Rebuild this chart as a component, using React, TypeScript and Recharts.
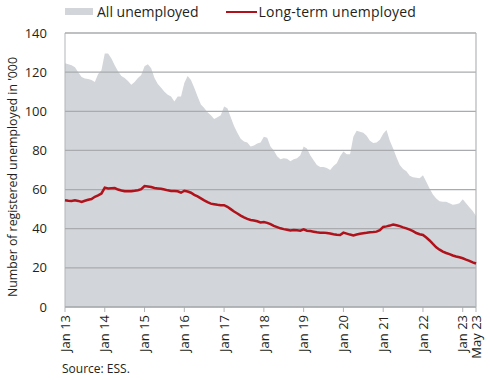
import { ComposedChart, Area, Line, XAxis, YAxis, CartesianGrid, ReferenceLine } from "recharts";

// monthly, Jan 2013 .. May 2023, thousands
const allUnemployed = [
  124.5, 124, 123.5, 122.5, 120, 117.5, 116.8, 116.5, 116, 115, 119, 121,
  129.5, 129.5, 127, 123.5, 120.5, 118, 117, 115.5, 113.5, 115, 117, 118.5,
  123, 124, 122, 117, 114, 112, 110, 108.5, 107.5, 105, 107.5, 107.5,
  114.5, 118, 116, 112, 107.5, 103.5, 101.7, 99.5, 98, 96, 97, 98,
  102.5, 101.5, 97, 92.5, 89, 86, 84.5, 84, 82, 82.5, 83.5, 84,
  87, 86.5, 82, 80, 77, 75.5, 76, 75.8, 74.5, 75.5, 76, 77.5,
  82, 81, 77.5, 75, 72.5, 71.5, 71.5, 71, 70, 72, 73.5, 77,
  79.5, 78, 78, 87, 90, 89.5, 89, 87.5, 85, 83.8, 84, 85.5,
  88.5, 90.5, 85, 81, 76.5, 72.5, 70.5, 69.3, 67, 66.3, 66, 65.8,
  67.3, 64, 60.5, 57.5, 55.5, 54, 53.8, 53.8, 53, 52.2, 52.5, 53,
  55, 53, 51, 49, 46.5,
];

const longTermUnemployed = [
  54.5, 54.3, 54.2, 54.5, 54.2, 53.7, 54.3, 54.8, 55.2, 56.3, 57, 58,
  61, 60.6, 60.7, 60.8, 60, 59.5, 59.1, 59.1, 59.2, 59.4, 59.7, 60.2,
  61.8, 61.6, 61.3, 60.8, 60.6, 60.4, 60, 59.6, 59.3, 59.3, 59.1, 58.4,
  59.4, 59, 58.4, 57.3, 56.5, 55.5, 54.5, 53.6, 52.8, 52.5, 52.2, 52,
  52, 51.2, 50, 48.8, 47.8, 46.7, 45.8, 45, 44.5, 44.2, 43.8, 43.2,
  43.4, 43, 42.3, 41.4, 40.8, 40.2, 39.8, 39.5, 39.1, 39.3, 39.2, 39,
  39.7, 39, 38.8, 38.5, 38.2, 38, 38, 37.8, 37.6, 37.2, 36.9, 36.8,
  38, 37.5, 37, 36.6, 37, 37.4, 37.7, 37.9, 38.2, 38.3, 38.5, 39.3,
  40.9, 41.2, 41.6, 42.1, 41.8, 41.3, 40.7, 40.2, 39.5, 38.8, 37.8, 37.2,
  36.8, 35.5, 34, 32.2, 30.5, 29.3, 28.3, 27.6, 27, 26.3, 25.8, 25.4,
  24.9, 24.2, 23.6, 22.8, 22.2,
];

const tickMonths = [0, 12, 24, 36, 48, 60, 72, 84, 96, 108, 120, 124];
const tickLabels = [
  "Jan 13", "Jan 14", "Jan 15", "Jan 16", "Jan 17", "Jan 18",
  "Jan 19", "Jan 20", "Jan 21", "Jan 22", "Jan 23", "May 23",
];
const yTicks = [0, 20, 40, 60, 80, 100, 120, 140];

const data = allUnemployed.map((v, i) => ({
  month: i,
  all: v,
  longTerm: longTermUnemployed[i],
}));

const FONT = "'Open Sans', sans-serif";
const TEXT = "#231f20";
const GRID = "#b3b5b7";
const GRID_IN = "#a9abae";
const AREA = "#d2d5d9";
const RED = "#b0121b";

function MonthTick(props: any) {
  const { x, y, payload } = props;
  const label = tickLabels[tickMonths.indexOf(payload.value)];
  return (
    <g transform={`translate(${x},${y + 1})`}>
      <text transform="rotate(-90)" textAnchor="end" dy="0.36em" fontSize={13} fill={TEXT} fontFamily={FONT}>
        {label}
      </text>
    </g>
  );
}

export default function App() {
  return (
    <div style={{ position: "absolute", left: 0, top: 0, width: 490, height: 380, background: "#fff", fontFamily: FONT }}>
      <div style={{ position: "absolute", left: 65, top: 2, display: "flex", alignItems: "center", fontSize: 14, color: TEXT, whiteSpace: "nowrap" }}>
        <span style={{ display: "inline-block", width: 28, height: 7, background: AREA, marginRight: 4 }} />
        <span>All unemployed</span>
        <span style={{ display: "inline-block", width: 31, height: 2, background: RED, marginLeft: 27, marginRight: 2 }} />
        <span style={{ letterSpacing: 0.2 }}>Long-term unemployed</span>
      </div>
      <div
        style={{
          position: "absolute", left: 12, top: 177, fontSize: 12.3, color: TEXT, whiteSpace: "nowrap",
          transform: "translate(-50%, -50%) rotate(-90deg)",
        }}
      >
        Number of registered unemployed in '000
      </div>
      <div style={{ position: "absolute", left: 62, top: 360, fontSize: 12, color: TEXT }}>Source: ESS.</div>

      {/* base: axes + shaded area */}
      <div style={{ position: "absolute", left: 0, top: 0, zIndex: 1 }}>
        <ComposedChart width={490} height={380} data={data} margin={{ top: 33, right: 14, bottom: 0, left: 0 }}>
          <XAxis
            dataKey="month"
            type="number"
            domain={[0, 124]}
            ticks={tickMonths}
            interval={0}
            tick={<MonthTick />}
            tickSize={5}
            tickLine={{ stroke: GRID }}
            axisLine={{ stroke: GRID }}
            height={73}
          />
          <YAxis
            domain={[0, 140]}
            ticks={yTicks}
            interval={0}
            width={65}
            tickLine={false}
            axisLine={{ stroke: GRID }}
            tick={{ fontSize: 13, fill: TEXT, fontFamily: FONT }}
            tickMargin={12}
          />
          <Area dataKey="all" type="linear" fill={AREA} fillOpacity={1} stroke="none" isAnimationActive={false} />
        </ComposedChart>
      </div>

      {/* overlay: grid above the area, then the line */}
      <div style={{ position: "absolute", left: 0, top: 0, zIndex: 2, pointerEvents: "none" }}>
        <ComposedChart width={490} height={380} data={data} margin={{ top: 33, right: 14, bottom: 73, left: 65 }}>
          <XAxis dataKey="month" type="number" domain={[0, 124]} ticks={tickMonths} hide />
          <YAxis domain={[0, 140]} ticks={yTicks} interval={0} hide />
          <CartesianGrid vertical={false} stroke={GRID_IN} strokeWidth={1.3} />
          <ReferenceLine x={124} stroke={GRID} strokeWidth={1.2} />
          <Line
            dataKey="longTerm"
            type="linear"
            stroke={RED}
            strokeWidth={2.5}
            dot={false}
            isAnimationActive={false}
          />
        </ComposedChart>
      </div>
    </div>
  );
}
